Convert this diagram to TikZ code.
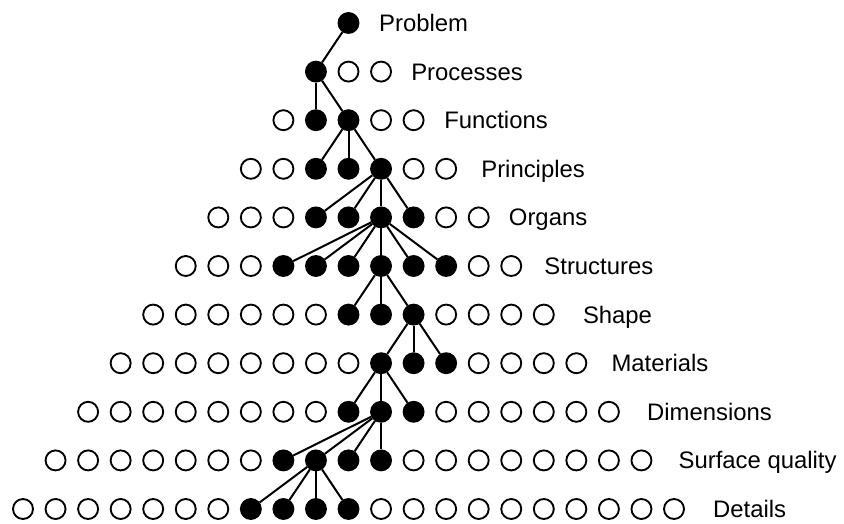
\documentclass[tikz,border=0pt]{standalone}
\usepackage{fontspec}
\setmainfont{Liberation Sans}
\usetikzlibrary{positioning}

\tikzset{
	ring/.style={circle, draw, line width=1.4pt, minimum size=15pt, inner sep=0pt},
	blob/.style={ring, fill=black},
	levellabel/.style={inner sep=0pt, anchor=west, font=\fontsize{17.9}{20}\selectfont, text height=16.8pt, text depth=4pt},
	branch/.style={line width=1.5pt}
}

\begin{document}
\begin{tikzpicture}[x=0.75pt, y=-0.75pt]
		\useasboundingbox (0,0) rectangle (844,524);
		
		% row / first filled / last filled / gap to label / label
		\foreach \row/\lo/\hi/\gap/\txt in {0/0/0/14.6/Problem, 1/-1/-1/14.3/Processes, 2/-1/0/14.6/Functions, 3/-1/1/18/Principles, 4/-1/2/14.3/Organs, 5/-2/3/16.5/Structures, 6/0/2/21/Shape, 7/1/3/18/Materials, 8/0/2/20.3/Dimensions, 9/-2/1/19.5/Surface quality, 10/-3/0/21/Details} {
			\foreach \c in {-\row,...,\row} {
				\pgfmathtruncatemacro\k{\c+10}
				\def\look{blob}
				\ifnum\c<\lo \def\look{ring}\fi
				\ifnum\c>\hi \def\look{ring}\fi
				\node[\look] (r\row c\k) at ({348.5+32.55*\c}, {23+48.6*\row}) {};
			}
			\pgfmathtruncatemacro\last{\row+10}
			\node[levellabel, right=\gap pt of r\row c\last] (lab\row) {\txt};
		}
		
		% parent row / parent column / child columns
		\foreach \row/\p/\kids in {0/10/{9}, 1/9/{9,10}, 2/10/{9,10,11}, 3/11/{9,10,11,12}, 4/11/{8,9,10,11,12,13}, 5/11/{10,11,12}, 6/12/{11,12,13}, 7/11/{10,11,12}, 8/11/{8,9,10,11}, 9/9/{7,8,9,10}} {
			\pgfmathtruncatemacro\nxt{\row+1}
			\foreach \q in \kids
				\draw[branch] (r\row c\p) -- (r\nxt c\q);
		}
		
\end{tikzpicture}
\end{document}
